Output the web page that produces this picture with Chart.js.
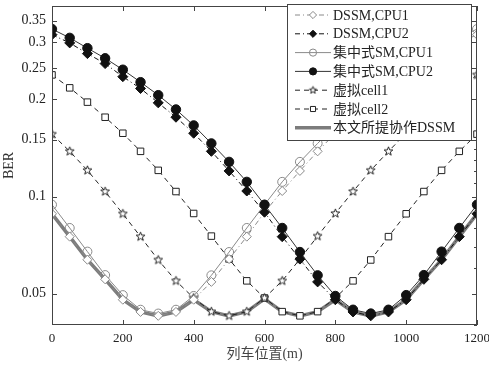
<!DOCTYPE html>
<html>
<head>
<meta charset="utf-8">
<script src="https://cdn.jsdelivr.net/npm/chart.js@4.4.1/dist/chart.umd.min.js"></script>
<style>
html, body { margin: 0; padding: 0; background: #fff; }
#wrap { width: 489px; height: 369px; }
</style>
</head>
<body>
<div id="wrap"><canvas id="c" width="489" height="369"></canvas></div>
<script>
// 列车位置 (m)
const positions = [0, 50, 100, 150, 200, 250, 300, 350, 400, 450, 500, 550, 600,
                   650, 700, 750, 800, 850, 900, 950, 1000, 1050, 1100, 1150, 1200];

// 各方式のBER
const dssmCpu1 = [0.0884, 0.0751, 0.0637, 0.0554, 0.0479, 0.0439, 0.0427, 0.0439, 0.0479, 0.0544, 0.0640, 0.0751, 0.0894,
                  0.104, 0.120, 0.138, 0.157, 0.176, 0.195, 0.216, 0.235, 0.258, 0.277, 0.299, 0.317];
const dssmCpu2 = [0.317, 0.299, 0.277, 0.258, 0.235, 0.216, 0.195, 0.176, 0.157, 0.138, 0.120, 0.104, 0.0894,
                  0.0751, 0.0640, 0.0544, 0.0479, 0.0439, 0.0427, 0.0439, 0.0479, 0.0554, 0.0637, 0.0751, 0.0884];
const smCpu1   = [0.0943, 0.0799, 0.0675, 0.0571, 0.0495, 0.0446, 0.0434, 0.0446, 0.0492, 0.0570, 0.0673, 0.0799, 0.0943,
                  0.111, 0.128, 0.146, 0.166, 0.186, 0.206, 0.226, 0.247, 0.268, 0.288, 0.310, 0.330];
const smCpu2   = [0.330, 0.310, 0.288, 0.268, 0.247, 0.226, 0.206, 0.186, 0.166, 0.146, 0.128, 0.111, 0.0943,
                  0.0799, 0.0673, 0.0570, 0.0492, 0.0446, 0.0434, 0.0446, 0.0495, 0.0571, 0.0675, 0.0799, 0.0943];
const cell1    = [0.156, 0.138, 0.1205, 0.1036, 0.0884, 0.0751, 0.0636, 0.0548, 0.0485, 0.0440, 0.0427, 0.0440, 0.0485,
                  0.0548, 0.0640, 0.0754, 0.0886, 0.1036, 0.1205, 0.138, 0.157, 0.176, 0.196, 0.217, 0.238];
const cell2    = [0.238, 0.217, 0.196, 0.176, 0.157, 0.138, 0.1205, 0.1036, 0.0886, 0.0754, 0.0640, 0.0548, 0.0485,
                  0.0440, 0.0427, 0.0440, 0.0485, 0.0548, 0.0636, 0.0751, 0.0884, 0.1036, 0.1205, 0.138, 0.156];
const coopDssm = [0.0884, 0.0751, 0.0637, 0.0554, 0.0479, 0.0439, 0.0427, 0.0439, 0.0479, 0.0440, 0.0427, 0.0440, 0.0482,
                  0.0440, 0.0427, 0.0440, 0.0479, 0.0439, 0.0427, 0.0439, 0.0479, 0.0554, 0.0637, 0.0751, 0.0884];

// 軸の目盛
const xTicks = [0, 200, 400, 600, 800, 1000, 1200];
const yTicks = [0.05, 0.1, 0.15, 0.2, 0.25, 0.3, 0.35];
const yTickLabels = ['0.05', '0.1', '0.15', '0.2', '0.25', '0.3', '0.35'];
// 右側の細かい目盛
const yMinorTicks = [0.04, 0.06, 0.07, 0.08, 0.09, 0.11, 0.12, 0.13, 0.14];

const FONT = '"Liberation Serif", "Times New Roman", "Noto Sans CJK SC", serif';

// 星形マーカー（Chart.jsの'star'は五芒星ではないので自作）
function makeStar(r) {
    const s = Math.ceil(r * 2 + 3);
    const cv = document.createElement('canvas');
    cv.width = s; cv.height = s;
    const c = cv.getContext('2d');
    c.beginPath();
    for (let i = 0; i < 10; i++) {
        const rr = i % 2 === 0 ? r : r * 0.42;
        const a = -Math.PI / 2 + i * Math.PI / 5;
        const px = s / 2 + rr * Math.cos(a), py = s / 2 + rr * Math.sin(a);
        i === 0 ? c.moveTo(px, py) : c.lineTo(px, py);
    }
    c.closePath();
    c.fillStyle = '#fff';
    c.fill();
    c.strokeStyle = '#222';
    c.lineWidth = 1;
    c.stroke();
    return cv;
}
const starImg = makeStar(4.6);
const starSmall = makeStar(3.8);

const toPts = arr => arr.map((v, i) => ({ x: positions[i], y: v }));

const datasets = [
    {
        label: 'DSSM,CPU1', data: toPts(dssmCpu1),
        borderColor: '#8a8a8a', borderWidth: 1, borderDash: [5, 3, 1, 3],
        pointStyle: 'rectRot', pointRadius: 4.5, pointBackgroundColor: '#fff', pointBorderColor: '#8a8a8a', pointBorderWidth: 1,
        order: 3,
    },
    {
        label: 'DSSM,CPU2', data: toPts(dssmCpu2),
        borderColor: '#111', borderWidth: 1, borderDash: [5, 3, 1, 3],
        pointStyle: 'rectRot', pointRadius: 5, pointBackgroundColor: '#111', pointBorderColor: '#111', pointBorderWidth: 1,
        order: 2,
    },
    {
        label: '集中式SM,CPU1', data: toPts(smCpu1),
        borderColor: '#8a8a8a', borderWidth: 1,
        pointStyle: 'circle', pointRadius: 4.5, pointBackgroundColor: 'rgba(255,255,255,0)', pointBorderColor: '#8a8a8a', pointBorderWidth: 1,
        order: 3,
    },
    {
        label: '集中式SM,CPU2', data: toPts(smCpu2),
        borderColor: '#333', borderWidth: 1,
        pointStyle: 'circle', pointRadius: 4.7, pointBackgroundColor: '#111', pointBorderColor: '#111', pointBorderWidth: 1,
        order: 1,
    },
    {
        label: '虚拟cell1', data: toPts(cell1),
        borderColor: '#222', borderWidth: 1, borderDash: [5, 4],
        pointStyle: starImg, pointRadius: 4.5,
        order: 4,
    },
    {
        label: '虚拟cell2', data: toPts(cell2),
        borderColor: '#222', borderWidth: 1, borderDash: [5, 4],
        pointStyle: 'rect', pointRadius: 4.6, pointBackgroundColor: '#fff', pointBorderColor: '#222', pointBorderWidth: 1,
        order: 4,
    },
    {
        label: '本文所提协作DSSM', data: toPts(coopDssm),
        borderColor: '#7c7c7c', borderWidth: 3.5,
        pointRadius: 0,
        order: 10,
    },
];
datasets.forEach(d => { d.tension = 0; d.fill = false; d.pointHoverRadius = d.pointRadius; });

// 枠線と内向きの目盛線
const framePlugin = {
    id: 'frame',
    afterDatasetsDraw(chart) {
        const { ctx, chartArea: a, scales: { x, y } } = chart;
        ctx.save();
        ctx.strokeStyle = '#444';
        ctx.lineWidth = 1;
        ctx.strokeRect(a.left + 0.5, a.top + 0.5, a.right - a.left - 1, a.bottom - a.top - 1);
        ctx.beginPath();
        xTicks.forEach(v => {
            const px = Math.round(x.getPixelForValue(v)) + 0.5;
            ctx.moveTo(px, a.bottom); ctx.lineTo(px, a.bottom - 5);
            ctx.moveTo(px, a.top); ctx.lineTo(px, a.top + 5);
        });
        yTicks.forEach(v => {
            const py = Math.round(y.getPixelForValue(v)) + 0.5;
            ctx.moveTo(a.left, py); ctx.lineTo(a.left + 5, py);
            ctx.moveTo(a.right, py); ctx.lineTo(a.right - 5, py);
        });
        yMinorTicks.forEach(v => {
            const py = Math.round(y.getPixelForValue(v)) + 0.5;
            ctx.moveTo(a.right, py); ctx.lineTo(a.right - 3, py);
        });
        ctx.stroke();
        ctx.restore();
    },
};

// 図中の凡例
const legendPlugin = {
    id: 'boxLegend',
    afterDraw(chart) {
        const { ctx } = chart;
        const box = { left: 287, top: 4, width: 184, height: 136 };
        ctx.save();
        ctx.fillStyle = '#fff';
        ctx.fillRect(box.left, box.top, box.width, box.height);
        ctx.strokeStyle = '#444';
        ctx.lineWidth = 1;
        ctx.strokeRect(box.left + 0.5, box.top + 0.5, box.width, box.height);
        const rowH = 18.8;
        chart.data.datasets.forEach((d, i) => {
            const cy = box.top + 11 + i * rowH;
            ctx.save();
            ctx.strokeStyle = d.borderColor;
            ctx.lineWidth = d.borderWidth;
            ctx.setLineDash(d.borderDash || []);
            ctx.beginPath();
            ctx.moveTo(295, cy); ctx.lineTo(331, cy);
            ctx.stroke();
            ctx.restore();
            if (d.pointRadius > 0) {
                ctx.save();
                ctx.fillStyle = d.pointBackgroundColor || '#fff';
                ctx.strokeStyle = d.pointBorderColor || '#222';
                ctx.lineWidth = 1;
                const style = d.pointStyle === starImg ? starSmall : d.pointStyle;
                Chart.helpers.drawPoint(ctx, { pointStyle: style, radius: 3.6, rotation: 0, borderWidth: 1 }, 313, cy);
                ctx.restore();
            }
            ctx.fillStyle = '#222';
            ctx.font = '14px ' + FONT;
            ctx.textBaseline = 'middle';
            ctx.fillText(d.label, 333, cy + 1);
        });
        ctx.restore();
    },
};

new Chart(document.getElementById('c'), {
    type: 'line',
    data: { datasets },
    options: {
        responsive: false,
        animation: false,
        events: [],
        layout: { padding: { top: 1, right: 12, left: 0, bottom: 0 } },
        plugins: { legend: { display: false }, tooltip: { enabled: false } },
        scales: {
            x: {
                type: 'linear', min: 0, max: 1200,
                grid: { display: false, drawTicks: false },
                border: { display: false },
                afterBuildTicks: s => { s.ticks = xTicks.map(v => ({ value: v })); },
                ticks: { padding: 6, color: '#222', font: { family: FONT, size: 13 }, maxRotation: 0, autoSkip: false, callback: v => String(v) },
                title: { display: true, text: '列车位置(m)', color: '#444', font: { family: FONT, size: 14 }, padding: { top: 0, bottom: 6 } },
                afterFit: s => { s.height = 44; s.paddingLeft = 0; s.paddingRight = 0; },
            },
            y: {
                type: 'logarithmic', min: 0.04, max: 0.389,
                grid: { display: false, drawTicks: false },
                border: { display: false },
                afterBuildTicks: s => { s.ticks = yTicks.map(v => ({ value: v })); },
                ticks: {
                    padding: 6, color: '#222', font: { family: FONT, size: 14 },
                    callback: (v, i) => yTickLabels[i],
                },
                title: { display: true, text: 'BER', color: '#333', font: { family: FONT, size: 14 }, padding: { top: 1, bottom: 0 } },
                afterFit: s => { s.width = 52; s.paddingTop = 0; s.paddingBottom = 0; },
            },
        },
    },
    plugins: [framePlugin, legendPlugin],
});
</script>
</body>
</html>
